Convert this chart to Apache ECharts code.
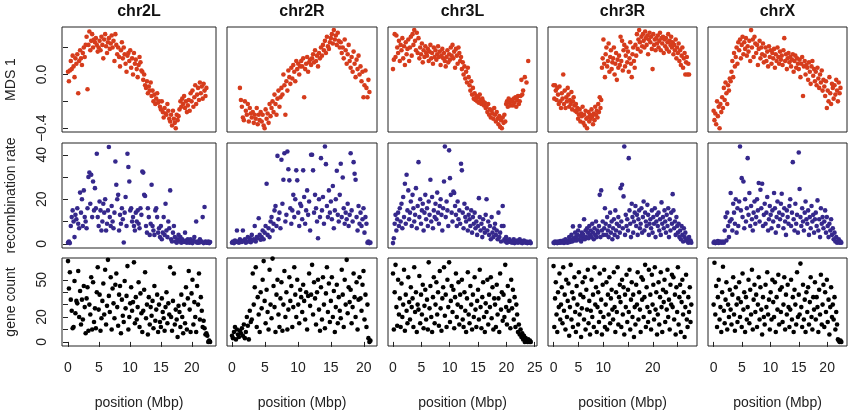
<!DOCTYPE html>
<html>
<head>
<meta charset="utf-8">
<script src="https://cdn.jsdelivr.net/npm/echarts@6/dist/echarts.min.js"></script>
<style>
  html, body { margin: 0; padding: 0; background: #fff; }
  #chart { width: 858px; height: 412px; }
</style>
</head>
<body>
<div id="chart"></div>
<script>
// windows along each chromosome arm, one value per window (Mbp step between windows)
const chroms = ['chr2L', 'chr2R', 'chr3L', 'chr3R', 'chrX'];
const windowStep = 0.15;

// MDS coordinate 1 per window (null = window without a value)
const mds2L = [
  .02,-.05,.03,.1,.04,.14,.06,-.02,.12,.08,
  .15,-.14,.1,.18,.12,.07,.16,.2,.13,.22,
  .28,-.11,.22,.32,.18,.25,.3,.2,.26,.24,
  .27,.22,.17,.2,.25,.18,.28,.22,.12,.26,
  .3,.21,.16,.24,.27,.19,.23,.29,.2,.25,
  .1,.3,.22,.15,.2,.13,.06,.18,.24,.12,
  .2,.15,.08,.02,.14,.16,.1,.18,.05,.12,
  0,.16,.08,.11,.04,-.02,.07,.13,.09,.03,
  .02,-.04,0,-.08,-.1,-.05,-.14,-.09,-.12,-.06,
  -.16,-.12,-.2,-.15,-.22,-.18,-.14,-.21,-.2,-.24,
  -.26,-.2,-.28,-.32,-.25,-.29,-.3,-.22,-.27,-.33,
  -.35,-.3,-.38,-.27,-.33,-.36,-.4,-.3,-.34,-.31,
  -.26,-.2,-.24,-.18,-.22,-.16,-.25,-.2,-.28,-.23,
  -.19,-.27,-.14,-.2,-.12,-.24,-.17,-.08,-.22,-.15,
  -.1,-.19,-.06,-.14,-.09,-.18,-.07,-.12,-.16,-.1,
  null,null,null,null
];
const mds2R = [
  null,null,null,null,null,null,null,null,-.1,-.19,
  -.24,-.32,-.34,-.2,-.27,-.3,-.22,-.35,-.25,-.29,
  -.32,-.28,-.36,-.3,-.33,-.25,-.37,-.3,-.34,-.28,
  -.35,-.3,-.38,-.4,-.26,-.33,-.29,-.36,-.22,-.31,
  -.25,-.2,-.28,-.15,-.22,-.3,-.18,-.12,-.24,-.17,
  -.1,-.15,0,-.08,-.3,-.05,-.12,.03,-.02,-.07,
  .05,-.03,.07,.02,-.05,.1,.04,.08,0,.06,
  .1,.06,.12,-.17,.04,.08,.13,.02,.09,.11,
  .07,.12,.15,.09,.18,.1,.14,.06,.16,.12,
  .2,.14,.22,.18,.25,.16,.28,.21,.19,.24,
  .27,.3,.23,.33,.26,.29,.22,.31,.25,.2,
  .24,.16,.2,.12,.26,.18,.08,.15,.22,.1,
  .05,.13,.02,.17,.08,-.02,.11,.04,.14,0,
  .06,-.05,.02,-.17,-.08,.03,-.1,-.17,-.04,-.13,
  null
];
const mds3L = [
  .04,.11,.3,.13,.29,.2,.16,.25,.1,.22,
  .18,.27,.12,.21,.07,.24,.15,.19,.26,.1,
  .2,.28,.14,.3,.22,.33,.25,.18,.31,.16,
  .27,.12,.2,.15,.23,.09,.18,.13,.21,.16,
  .14,.19,.1,.17,.22,.12,.16,.08,.2,.13,
  .18,.11,.15,.21,.13,.17,.07,.14,.19,.12,
  .16,.1,.06,.13,.18,.09,.15,.11,.2,.14,
  .22,.12,.17,.05,.19,.14,.08,.2,.16,.1,
  .13,.04,.09,0,.06,-.03,.02,-.06,.05,-.02,
  -.08,-.12,-.05,-.15,-.1,-.18,-.14,-.19,-.16,-.2,
  -.17,-.21,-.15,-.19,-.22,-.18,-.2,-.23,-.21,-.25,
  -.24,-.28,-.22,-.3,-.26,-.32,-.27,-.29,-.33,-.25,
  -.3,-.35,-.28,-.33,-.37,-.31,-.39,-.34,-.4,-.32,
  -.36,-.3,-.35,-.22,-.2,-.24,-.18,-.21,-.23,-.19,
  -.2,-.23,-.18,-.21,-.17,-.24,-.19,-.16,-.22,-.2,
  -.16,-.04,-.15,-.12,null,-.02,null,-.06,null,.1,
  null,null,null
];
const mds3R = [
  -.08,-.18,-.08,-.12,-.19,-.1,-.15,-.22,-.09,-.2,
  -.25,-.14,-.18,0,-.22,-.12,-.25,-.17,-.2,-.1,
  -.15,-.24,-.19,-.22,-.13,-.26,-.2,-.17,-.23,-.27,
  -.22,-.28,-.25,-.33,-.3,-.26,-.35,-.29,-.31,-.24,
  -.36,-.3,-.38,-.27,-.33,-.4,-.32,-.28,-.35,-.3,
  -.33,-.26,-.31,-.37,-.29,-.34,-.24,-.3,-.27,-.32,
  -.22,-.28,-.17,-.25,-.19,.05,.12,.26,.08,-.02,
  .15,.2,.06,.1,.23,.02,.13,.18,.04,.09,
  .12,.2,0,.08,.16,-.04,.11,.05,.14,.07,
  .28,.1,.25,.03,.18,.22,.06,.14,.2,.09,
  .17,.02,.12,.24,.08,-.02,.15,.2,.1,.05,
  .22,.14,.3,.19,.26,.33,.24,.17,.28,.21,
  .3,.25,.2,.32,.27,.22,.29,.15,.26,.31,
  .24,.28,.19,.04,.3,.22,.26,.18,.27,.23,
  .29,.2,.25,.31,.18,.27,.23,.28,.16,.26,
  .21,.27,.19,.24,.3,.17,.25,.22,.28,.2,
  .24,.15,.22,.18,.26,.12,.2,.16,.23,.1,
  .18,.07,.14,.2,.05,.12,.16,0,.09,.13,
  0,.08,0,null,null,null
];
const mdsX = [
  -.27,-.34,-.29,-.37,-.2,-.31,-.24,-.4,-.22,-.28,
  -.17,-.25,-.1,-.19,-.06,-.14,-.22,-.08,-.12,-.03,
  -.05,.02,.1,-.02,.16,.06,.13,.2,.08,.24,
  .18,.26,.12,.22,.28,.15,.24,.19,.27,.14,
  .21,.17,.25,.1,.33,.2,.26,.13,.28,.23,
  .16,.22,.07,.19,.25,.12,.2,.15,.23,.09,
  .14,.2,.1,.17,.06,.21,.13,.18,.08,.16,
  .12,.19,.05,.15,.1,.2,.13,.08,.17,.11,
  .14,.07,.18,.27,.1,.15,.04,.12,.16,.09,
  .13,.06,.11,.15,.02,.1,.14,.05,.12,.08,
  .04,.11,-.02,.08,.13,-.16,.06,.1,0,.07,
  .05,-.04,.09,.02,-.07,.06,.1,-.01,.04,-.05,
  .02,-.08,.05,-.03,-.1,0,-.06,.03,-.12,-.04,
  -.09,-.16,-.05,-.25,-.12,-.2,-.02,-.14,-.22,-.07,
  -.1,-.18,-.08,-.15,-.04,-.12,-.2,-.06,-.14,-.1,
  null
];

// recombination rate per window
const rec2L = [
  .5,1,.3,8,12,15,10,3,13,11,
  16,9,7,23,14,20,8,24,12,10,
  7,16,30,32,18,31,12,28,15,25,
  16,40.5,12,8,19,15,6,10,18,14,
  20,6,9,15,43.5,12,8,17,10,7,
  14,37,26.5,20,22,6,13,9,16,11,
  .6,14,21,8,40.5,34.5,28,15,16,10,
  12,8,6,14,10,15,9,7,16,13,
  32.5,32,22,21.5,8,5,16,12,4,9,
  26.5,8,6,4,15,16,12,5,7,3,
  8,2,5,12,4,18,6,3,10,7,
  24,2,1,5,8,3,1,.5,2,4,
  1,3,.5,2,1,.8,5,1.5,.5,2,
  1,.5,2,1,.3,1.5,3,1,10,.5,
  1,.5,2,.8,1,12,.3,16.5,1,.5,
  .5,1,.3,.8
];
const rec2R = [
  .5,1,.3,1.5,.8,6,1,.5,2,1.2,
  .8,6,1.5,2,.5,1,3,1,2.5,.7,
  4,1.5,2,8,1,3,2.5,11.5,4,1.8,
  3,6,2,5,8,27,4,7,3,10,
  12,6,9,15,17,8,39.5,11,14,7,
  37.8,18,28.8,40.7,10,13,41.5,33.5,28.5,16,
  9,15,22,12,20,33,28.5,14,8,18,
  17,11,33,21,9,15,24,13,19,6,
  40,40,33,14,22,16,10,2.5,20,12,
  38.5,15,21,9,43.7,35.8,17,12,24,14,
  19,11,26,7,15,20,32.8,13,10,22,
  36,12,29.8,16,9,14,11,18,8,13,
  40.7,15,10,36.7,31.5,28.8,12,6,17,9,
  14,8,11,16,5,12,9,.5,1,.3,
  .5
];
const rec3L = [
  .3,2.5,9,13,6,11,14,8,16,10,
  18,7,21,12,27,9,31,15,24,11,
  14,19,8,22,16,10,13,25,7,17,
  36.7,12,20,9,15,18,6,14,22,11,
  16,8,19,13,28.8,10,21,7,15,12,
  18,11,23,14,9,17,20,13,6,16,
  28,43.7,12,19,15,8,42,29.5,22,14,
  10,23.5,22.8,17,13,8,19,11,15,9,
  36,33,14,7,18,12,10,16,6,13,
  11,8,15,5,12,9,14,7,10,4,
  8,20.5,12,6,9,3,11,7,5,13,
  20,6,10,4,8,2,12,5,3,7,
  9,4,6,2,14,3,5,1,8,17,
  8,2,1,3,.5,1.5,1,2,.8,1,
  .5,1,2,.3,1,.8,1.5,.5,1,2,
  1,.5,.3,1,1.5,.8,.5,1,.3,.5,
  .5,1,.3
];
const rec3R = [
  .5,.3,1,.5,.8,.3,1,.5,.6,1.2,
  .5,1,.8,1.5,.4,1,2,.7,1.2,.5,
  1.5,3,.8,2,4,1,7.8,2.5,1.5,5,
  3,1.5,4,6,2,8,3.5,1,5,2.5,
  4,11,2,6,3,7,5,2.5,8,4,
  6,3,9,5,2,7,4,10,3,6,
  5,8,22,3,24,6,10,4,7,16,
  9,4,12,6,3,8,14,5,10,2,
  7,11,4,15,6,9,3,12,8,5,
  25,10,26.5,7,21.3,43.7,4,13,8,11,
  6,38.5,15,9,3,18,12,5,10,14,
  17,8,13,4,11,15,7,9,16,5,
  12,19,6,14,10,8,17.5,13,4,9,
  11,7,15,5,12,9,16,3,10,13,
  8,14,6,11,4,18.6,9,12,7,15,
  10,5,13,8,16,3,11,6,14,9,
  22.3,15,7,10,4,12,8,5,9,3,
  6,2,8,4,1,7,3,5,1.5,2,
  1,.5,3,.8,1.5,.5
];
const recX = [
  .5,1,.3,.8,.5,1.2,.4,.8,1,.5,
  .7,1,.5,6,12,1.5,14,8,3,10,
  22.8,11,6,18,14,9,20,5,16,8,
  19,43.7,15,29.5,12,28,7,20,10,16,
  38.5,13,22.8,8,17,11,6,14,19,9,
  12,20,15,27.3,10,24.3,16,27,8,13,
  18,9,14,21,6,11,17,13,7,15,
  10,22.8,16,5,12,19,8,14,11,18,
  22.5,13,7,16,10,4,15,12,9,17,
  20,8,14,36.7,11,6,18,9,13,5,
  41,24.6,12,8,16,10,6,14,19,11,
  9,15,4,12,7,17,10,13,5,11,
  14,8,19.5,6,11,3,16,9,12,7,
  10,15,5,12,8,3,9,6,11,4,
  7,2,5,1,3,.5,1,2,.5,1,
  .5
];

// gene count per window
const gene2L = [
  65,43,56,34,25,11,12,49,23,33,
  31,57,20,41,14,34,18,45,28,7,
  35,44,9,30,22,52,10,48,16,27,
  11,40,60,26,38,9,19,33,47,22,
  58,14,29,66,37,24,52,10,43,31,
  19,46,55,28,13,38,45,7,34,21,
  16,49,27,37,61,10,20,31,44,25,
  32,64,15,36,18,28,48,12,39,23,
  8,25,42,56,19,30,6,36,14,28,
  21,33,11,45,17,26,38,8,30,16,
  12,35,24,19,9,28,40,15,31,22,
  60,20,9,33,55,14,26,18,4,29,
  24,12,38,20,7,30,15,44,10,35,
  57,26,8,39,50,14,32,20,8,45,
  30,55,18,36,25,12,17,11,6,7,
  5,0,1,0
];
const gene2R = [
  5,3,8,12,2,10,6,4,9,7,
  11,5,14,3,8,20,13,2,25,16,
  18,55,30,44,60,12,36,22,8,40,
  27,50,65,33,15,42,24,10,58,30,
  19,67,45,28,8,38,50,22,12,35,
  48,9,30,57,20,40,10,26,52,33,
  45,12,28,60,38,20,50,30,15,42,
  36,24,46,33,18,40,10,37,55,29,
  38,62,22,48,35,14,40,50,26,9,
  44,18,52,30,11,39,60,24,47,16,
  33,52,20,41,8,28,46,15,36,25,
  19,58,38,12,50,30,66,23,44,32,
  42,15,28,55,36,20,48,10,34,52,
  35,25,46,57,18,38,12,30,3,0,
  1
];
const gene3L = [
  55,10,40,62,28,13,50,22,35,12,
  47,20,30,58,9,38,25,15,52,32,
  18,44,28,35,12,60,24,40,8,30,
  26,53,15,38,22,46,11,29,42,18,
  34,10,64,27,45,20,8,36,52,15,
  30,48,22,40,13,57,27,9,35,44,
  60,21,38,12,50,28,64,16,33,45,
  24,42,11,36,55,20,30,48,14,38,
  28,50,18,12,40,25,8,35,56,22,
  15,45,30,10,38,20,52,26,12,33,
  42,18,58,28,11,36,48,20,8,31,
  24,50,14,38,28,52,19,44,10,35,
  30,12,46,22,35,8,55,26,40,17,
  38,20,62,28,14,45,25,33,11,50,
  27,42,18,36,12,30,22,8,14,6,
  10,4,7,2,5,0,3,1,0,2,
  0,1,0
];
const gene3R = [
  61,12,35,48,22,8,40,28,55,18,
  30,44,15,60,25,38,10,50,20,33,
  47,5,28,62,18,40,12,35,52,24,
  8,45,30,14,56,22,38,4,27,48,
  36,18,52,10,42,26,58,15,33,6,
  25,50,20,38,12,60,30,44,8,28,
  40,16,55,24,34,6,46,20,58,12,
  30,48,10,38,22,52,15,35,42,26,
  18,56,28,8,40,24,60,14,36,46,
  32,12,50,22,44,6,38,28,54,16,
  42,24,58,10,34,48,20,38,4,28,
  14,46,30,56,18,40,26,8,52,34,
  50,20,36,62,12,44,28,16,58,24,
  38,10,54,30,46,18,60,26,40,6,
  22,48,14,36,56,28,8,42,32,50,
  16,40,26,58,20,34,10,46,30,54,
  28,52,18,38,6,44,24,60,14,36,
  46,8,32,50,22,40,4,28,54,18,
  12,36,24,44,16,30
];
const geneX = [
  30,63.7,22,45,12,36,50,18,28,8,
  40,60.4,25,15,34,48,10,30,20,42,
  26,14,38,52,22,9,44,30,16,35,
  48,20,32,12,55,26,40,8,36,18,
  28,50,15,42,22,58,10,34,46,24,
  38,12,30,52,18,44,26,6,36,20,
  14,46,28,56,22,34,10,40,18,50,
  32,20,48,8,36,26,54,14,42,24,
  44,16,30,52,10,38,22,46,28,12,
  26,50,18,36,8,42,30,14,56,20,
  38,22,63,28,12,46,18,34,8,40,
  24,44,14,32,52,20,10,36,26,48,
  18,36,28,8,42,22,54,14,30,46,
  12,40,24,50,16,34,6,28,44,20,
  30,18,36,10,24,14,2,1,0,1,
  0
];

// axes
const xRanges = [[-0.97, 23.9], [-0.76, 22.0], [-0.88, 25.4], [-1.12, 28.9], [-0.99, 23.5]];
const xTicks = [[0, 5, 10, 15, 20], [0, 5, 10, 15, 20], [0, 5, 10, 15, 20, 25], [0, 5, 10, 15, 20, 25], [0, 5, 10, 15, 20]];
const xLabels = [[0, 5, 10, 15, 20], [0, 5, 10, 15, 20], [0, 5, 10, 15, 20, 25], [0, 5, 10, 20], [0, 5, 10, 15, 20]];
const rowNames = ['MDS 1', 'recombination rate', 'gene count'];
const yRanges = [[-0.428, 0.353], [-1.9, 45.3], [-3.3, 67.5]];
const yTicks = [[-0.4, -0.2, 0, 0.2], [0, 10, 20, 30, 40], [0, 10, 20, 30, 40, 50]];
const yLabels = [[-0.4, 0], [0, 20, 40], [0, 20, 50]];
const rowColors = ['#d63c1c', '#35288c', '#000000'];

const colLeft = [62, 227, 388, 548, 708];
const colWidth = [154, 150, 149, 149, 139];
const rowTop = [27, 143, 258];
const rowHeight = [105, 105, 88];
const font = "'Liberation Sans', Arial, Helvetica, sans-serif";
const ink = '#222';

const rows = [
  [mds2L, mds2R, mds3L, mds3R, mdsX],
  [rec2L, rec2R, rec3L, rec3R, recX],
  [gene2L, gene2R, gene3L, gene3R, geneX]
];

const grid = [], xAxis = [], yAxis = [], series = [];
rows.forEach((rowData, r) => {
  rowData.forEach((vals, c) => {
    const k = grid.length;
    const bottomRow = r === 2;
    const firstCol = c === 0;
    grid.push({
      left: colLeft[c], top: rowTop[r], width: colWidth[c], height: rowHeight[r],
      show: true, borderColor: ink, borderWidth: 1
    });
    xAxis.push({
      gridIndex: k, type: 'value', min: xRanges[c][0], max: xRanges[c][1],
      splitLine: { show: false }, axisLine: { show: false },
      axisTick: { show: bottomRow, customValues: xTicks[c], length: 5, lineStyle: { color: ink } },
      axisLabel: { show: bottomRow, customValues: xLabels[c], margin: 15, fontSize: 14, color: ink, fontFamily: font },
      name: bottomRow ? 'position (Mbp)' : '', nameLocation: 'middle', nameGap: 50,
      nameTextStyle: { fontSize: 14, color: ink, fontFamily: font }
    });
    yAxis.push({
      gridIndex: k, type: 'value', min: yRanges[r][0], max: yRanges[r][1],
      splitLine: { show: false }, axisLine: { show: false },
      axisTick: { show: firstCol, customValues: yTicks[r], length: 5, lineStyle: { color: ink } },
      axisLabel: {
        show: firstCol, customValues: yLabels[r], rotate: 90, margin: 13,
        fontSize: 14, color: ink, fontFamily: font,
        formatter: v => r === 0 ? v.toFixed(1).replace('-', '\u2212') : String(v)
      },
      name: firstCol ? rowNames[r] : '', nameLocation: 'middle', nameRotate: 90, nameGap: 44,
      nameTextStyle: { fontSize: 14, color: ink, fontFamily: font }
    });
    series.push({
      type: 'scatter', xAxisIndex: k, yAxisIndex: k, symbol: 'circle', symbolSize: 4.6,
      silent: true, itemStyle: { color: rowColors[r], opacity: 1 },
      data: vals.map((v, i) => v === null ? null : [+(i * windowStep).toFixed(2), v]).filter(Boolean)
    });
  });
});

const titles = chroms.map((name, c) => ({
  type: 'text', x: colLeft[c] + colWidth[c] / 2, y: 12,
  style: { text: name, align: 'center', verticalAlign: 'middle', font: 'bold 16px ' + font, fill: '#111' }
}));

const chart = echarts.init(document.getElementById('chart'));
chart.setOption({
  animation: false,
  backgroundColor: '#fff',
  graphic: titles,
  grid, xAxis, yAxis, series
});
</script>
</body>
</html>
